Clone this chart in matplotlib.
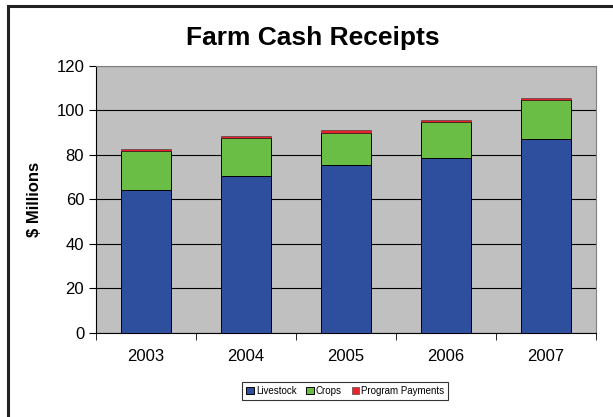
"""
Farm cash receipts stacked bar chart
"""
import matplotlib
matplotlib.use('Agg')
import matplotlib.pyplot as plt
from matplotlib.patches import Rectangle
import numpy as np

plt.rcParams['font.family'] = ['Liberation Sans', 'DejaVu Sans']

years = ['2003', '2004', '2005', '2006', '2007']
livestock = [64.3, 70.3, 75.2, 78.7, 87.1]
crops = [17.5, 17.0, 14.6, 15.9, 17.3]
program_payments = [0.9, 1.3, 1.5, 1.2, 0.9]

fig = plt.figure(figsize=(6.13, 4.17), dpi=100)
ax = fig.add_axes([0.1566, 0.2022, 0.8152, 0.6402])

x = np.arange(len(years))
width = 0.5
livestock_arr = np.array(livestock)
crops_arr = np.array(crops)

ax.bar(x, livestock, width, color='#2E4E9E', edgecolor='black', linewidth=0.7,
       label='Livestock', zorder=3)
ax.bar(x, crops, width, bottom=livestock_arr, color='#6BBE45', edgecolor='black',
       linewidth=0.7, label='Crops', zorder=3)
ax.bar(x, program_payments, width, bottom=livestock_arr + crops_arr, color='#E8232A',
       edgecolor='#333333', linewidth=0.4, label='Program Payments', zorder=3)

ax.set_facecolor('#C0C0C0')
ax.set_xlim(-0.5, len(years) - 0.5)
ax.set_ylim(0, 120)
ax.set_yticks(range(0, 121, 20))
ax.yaxis.grid(True, color='black', linewidth=0.8, zorder=1)
ax.set_axisbelow(True)

ax.set_xticks(x)
ax.set_xticklabels(years, fontsize=12)
ax.set_xticks(np.arange(-0.5, len(years)), minor=True)
ax.tick_params(axis='x', which='major', length=0, pad=12)
ax.tick_params(axis='x', which='minor', length=5, direction='out', color='black')
ax.tick_params(axis='y', labelsize=12, length=5, direction='out', color='black')

for side in ['top', 'right']:
    ax.spines[side].set_color('#808080')
ax.spines['left'].set_color('black')
ax.spines['bottom'].set_color('black')

ax.set_ylabel('$ Millions', fontsize=12, fontweight='bold', labelpad=10)

fig.text(0.511, 0.910, 'Farm Cash Receipts', fontsize=19, fontweight='bold',
         ha='center', va='center')

leg = fig.legend(loc='center', ncol=3,
                 fontsize=7, frameon=True, fancybox=False, edgecolor='black',
                 handlelength=0.8, handleheight=0.8, handletextpad=0.2,
                 columnspacing=1.0, borderpad=0.4)
leg.set_bbox_to_anchor((0.5634, 0.0624), transform=fig.transFigure)
leg.get_frame().set_linewidth(0.8)

# outer border of the chart
fig.patches.append(Rectangle((8 / 613, -0.1), 1.2, 1.1 - 6 / 417,
                             transform=fig.transFigure, fill=False,
                             edgecolor='#222222', linewidth=2.2))

plt.savefig('out.png', dpi=100)
plt.close()
